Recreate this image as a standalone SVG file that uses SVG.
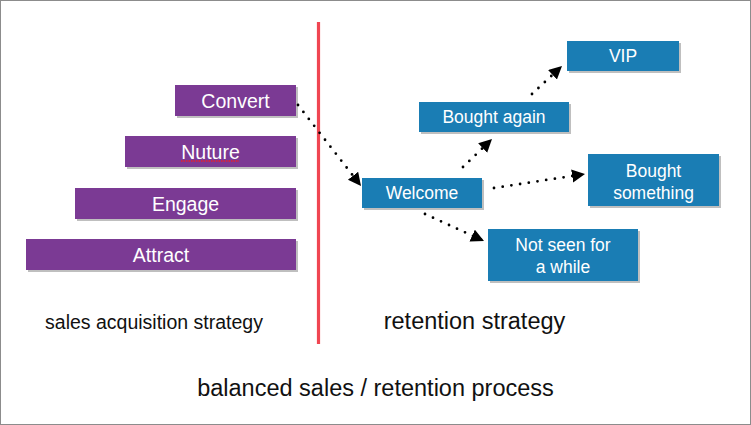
<svg xmlns="http://www.w3.org/2000/svg" width="751" height="425" viewBox="0 0 751 425">
  <style>
    .p { fill: #7b3a94; }
    .b { fill: #1a7db4; }
    .sh { fill: #8a8a8a; opacity: 0.55; }
    .lt { font-family: "Liberation Sans", Arial, sans-serif; fill: #ffffff; text-anchor: middle; }
    .pt { font-size: 19.5px; }
    .bt { font-size: 17.5px; }
    .cap { font-family: "Liberation Sans", Arial, sans-serif; fill: #111111; text-anchor: middle; }
    .con { fill: none; stroke: #000000; stroke-width: 2.8; stroke-linecap: round; stroke-dasharray: 0 8.8; }
  </style>
  <defs>
    <marker id="ah" markerUnits="userSpaceOnUse" markerWidth="15" markerHeight="15" refX="13" refY="6.5" orient="auto">
      <path d="M0,0 L13,6.5 L0,13 z" fill="#000000"/>
    </marker>
  </defs>
  <rect x="0.5" y="0.5" width="750" height="424" fill="#ffffff" stroke="#8c8c8c" stroke-width="1"/>

  <!-- divider -->
  <line x1="318.5" y1="22" x2="318.5" y2="344" stroke="#f04652" stroke-width="3.2"/>

  <g id="convert">
    <rect class="sh" x="177" y="87" width="121" height="31"/>
    <rect class="p" x="175" y="85" width="121" height="31"/>
    <text class="lt pt" x="235.5" y="107.5">Convert</text>
  </g>
  <g id="nuture">
    <rect class="sh" x="127" y="138" width="171" height="31"/>
    <rect class="p" x="125" y="136" width="171" height="31"/>
    <text class="lt pt" x="210.5" y="158.5">Nuture</text>
    <line x1="181" y1="161" x2="239" y2="161" stroke="#e8202c" stroke-width="1.6" stroke-dasharray="1.5 1"/>
  </g>
  <g id="engage">
    <rect class="sh" x="77" y="190" width="221" height="31"/>
    <rect class="p" x="75" y="188" width="221" height="31"/>
    <text class="lt pt" x="185.5" y="210.5">Engage</text>
  </g>
  <g id="attract">
    <rect class="sh" x="28" y="241" width="270" height="31"/>
    <rect class="p" x="26" y="239" width="270" height="31"/>
    <text class="lt pt" x="161" y="262">Attract</text>
  </g>

  <g id="welcome">
    <rect class="sh" x="364" y="180" width="120" height="30"/>
    <rect class="b" x="362" y="178" width="120" height="30"/>
    <text class="lt bt" x="422" y="199">Welcome</text>
  </g>
  <g id="bought-again">
    <rect class="sh" x="421" y="104" width="150" height="30"/>
    <rect class="b" x="419" y="102" width="150" height="30"/>
    <text class="lt bt" x="494" y="123">Bought again</text>
  </g>
  <g id="vip">
    <rect class="sh" x="569" y="43" width="112" height="30"/>
    <rect class="b" x="567" y="41" width="112" height="30"/>
    <text class="lt bt" x="623" y="62">VIP</text>
  </g>
  <g id="bought-something">
    <rect class="sh" x="590" y="156" width="131" height="52"/>
    <rect class="b" x="588" y="154" width="131" height="52"/>
    <text class="lt bt" x="653.5" y="177">Bought</text>
    <text class="lt bt" x="653.5" y="199">something</text>
  </g>
  <g id="not-seen">
    <rect class="sh" x="490" y="231" width="150" height="52"/>
    <rect class="b" x="488" y="229" width="150" height="52"/>
    <text class="lt bt" x="563" y="251">Not seen for</text>
    <text class="lt bt" x="563" y="273">a while</text>
  </g>

  <g id="connectors">
    <line class="con" x1="298" y1="105" x2="361" y2="186" marker-end="url(#ah)"/>
    <line class="con" x1="463" y1="167" x2="492" y2="139" marker-end="url(#ah)"/>
    <line class="con" x1="532" y1="94" x2="562" y2="66" marker-end="url(#ah)"/>
    <line class="con" x1="494" y1="188" x2="585" y2="174" marker-end="url(#ah)"/>
    <line class="con" x1="425" y1="214" x2="484" y2="241" marker-end="url(#ah)"/>
  </g>

  <text class="cap" x="154" y="329" font-size="19.5">sales acquisition strategy</text>
  <text class="cap" x="474.5" y="329" font-size="23.5">retention strategy</text>
  <text class="cap" x="375.5" y="396" font-size="23.5">balanced sales / retention process</text>
</svg>
